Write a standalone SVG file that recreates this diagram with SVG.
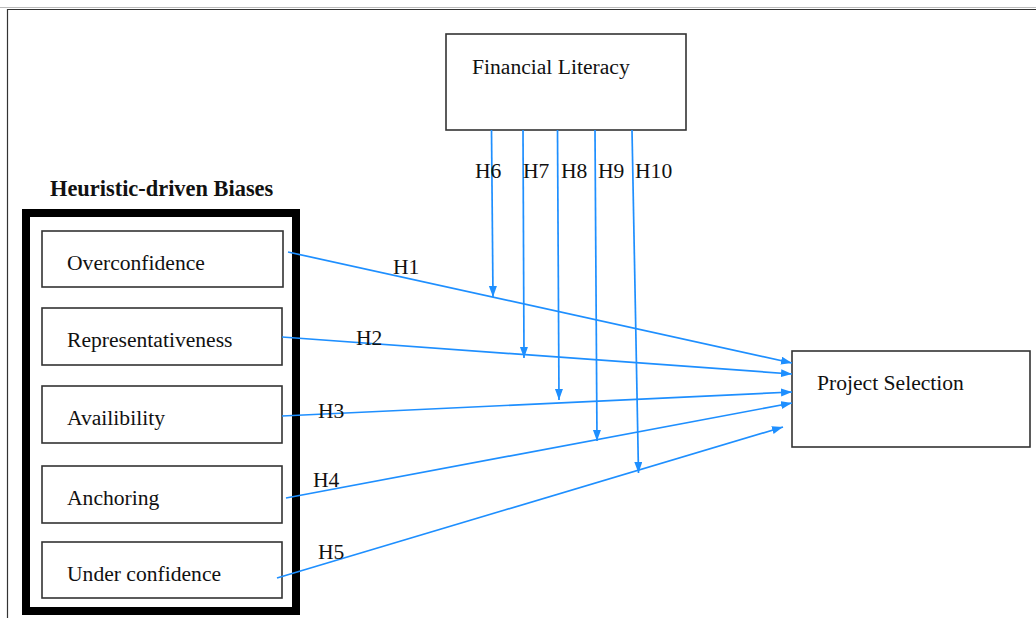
<svg xmlns="http://www.w3.org/2000/svg" width="1036" height="618" viewBox="0 0 1036 618">
<style>
.box{fill:#fff;stroke:#333;stroke-width:1.6}
.t{font-family:"Liberation Serif","Times New Roman",serif;font-size:21.6px;fill:#111}
.tb{font-family:"Liberation Serif","Times New Roman",serif;font-size:22.4px;font-weight:bold;fill:#111}
.c{stroke:#1e8fff;stroke-width:1.7;fill:none;marker-end:url(#ah)}
</style>
<defs>
<marker id="ah" markerUnits="userSpaceOnUse" markerWidth="12" markerHeight="9" refX="11" refY="4" orient="auto">
<path d="M0,0 L11,4 L0,8 z" fill="#1e8fff"/>
</marker>
</defs>
<rect width="1036" height="618" fill="#fff"/>
<g id="frame">
<line x1="0" y1="7.5" x2="1036" y2="7.5" stroke="#bbb" stroke-width="1"/>
<line x1="7" y1="9.5" x2="1036" y2="9.5" stroke="#333" stroke-width="1.2"/>
<line x1="7.5" y1="9" x2="7.5" y2="618" stroke="#333" stroke-width="1.2"/>
</g>
<g id="financial-literacy">
<rect class="box" x="446" y="34" width="240" height="96"/>
<text class="t" x="472" y="74">Financial Literacy</text>
</g>
<g id="heuristic-biases">
<text class="tb" x="50" y="196">Heuristic-driven Biases</text>
<rect x="26" y="213" width="270" height="398" fill="none" stroke="#000" stroke-width="8"/>
</g>
<g id="overconfidence">
<rect class="box" x="42" y="231" width="241" height="56"/>
<text class="t" x="67" y="270">Overconfidence</text>
</g>
<g id="representativeness">
<rect class="box" x="42" y="308" width="240" height="57"/>
<text class="t" x="67" y="347">Representativeness</text>
</g>
<g id="availibility">
<rect class="box" x="42" y="386" width="240" height="57"/>
<text class="t" x="67" y="425">Availibility</text>
</g>
<g id="anchoring">
<rect class="box" x="42" y="466" width="240" height="57"/>
<text class="t" x="67" y="505">Anchoring</text>
</g>
<g id="under-confidence">
<rect class="box" x="42" y="542" width="240" height="56"/>
<text class="t" x="67" y="581">Under confidence</text>
</g>
<g id="project-selection">
<rect class="box" x="792" y="351" width="238" height="96"/>
<text class="t" x="817" y="390">Project Selection</text>
</g>
<g id="connectors">
<line class="c" x1="288" y1="252" x2="792" y2="363"/>
<line class="c" x1="282" y1="337" x2="792" y2="374"/>
<line class="c" x1="282" y1="416" x2="792" y2="392"/>
<line class="c" x1="286" y1="498" x2="792" y2="403"/>
<line class="c" x1="277" y1="578" x2="783" y2="427"/>
<line class="c" x1="491.5" y1="130" x2="493" y2="297"/>
<line class="c" x1="523" y1="130" x2="524" y2="358"/>
<line class="c" x1="557.5" y1="130" x2="559" y2="400"/>
<line class="c" x1="595" y1="130" x2="597" y2="441"/>
<line class="c" x1="632" y1="130" x2="638.5" y2="473"/>
<text class="t" x="393" y="274">H1</text>
<text class="t" x="356" y="345">H2</text>
<text class="t" x="318" y="418">H3</text>
<text class="t" x="313" y="487">H4</text>
<text class="t" x="318" y="559">H5</text>
<text class="t" x="475" y="178">H6</text>
<text class="t" x="523" y="178">H7</text>
<text class="t" x="561" y="178">H8</text>
<text class="t" x="598" y="178">H9</text>
<text class="t" x="635" y="178">H10</text>
</g>
</svg>
